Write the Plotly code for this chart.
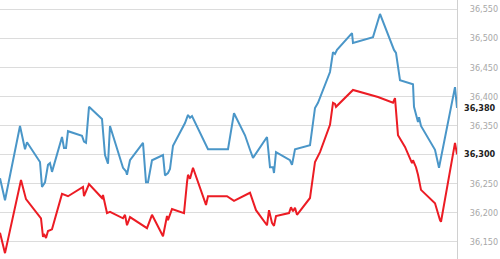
import plotly.graph_objects as go

# time index (minutes) and prices
t_blue = [0,5,20,25,27,40,42,45,48,50,52,62,64,66,68,82,84,86,89,102,105,108,110,123,126,127,130,143,146,148,152,163,165,168,170,173,185,188,190,192,208,228,234,245,250,253,267,270,273,274,276,290,292,295,310,315,318,330,333,335,337,352,353,373,380,394,396,400,413,414,418,419,421,435,439,455,457]
v_blue = [36259,36221,36349,36309,36321,36287,36244,36252,36282,36285,36270,36330,36311,36311,36340,36332,36322,36320,36382,36361,36299,36284,36349,36277,36271,36265,36290,36320,36252,36252,36290,36299,36264,36268,36275,36315,36354,36368,36363,36366,36309,36309,36371,36333,36308,36294,36330,36278,36278,36268,36304,36290,36282,36309,36316,36380,36389,36442,36476,36473,36480,36509,36492,36502,36542,36480,36475,36428,36421,36382,36356,36364,36349,36308,36277,36416,36380]

t_red = [0,5,21,26,41,43,44,46,48,52,62,68,83,84,89,102,103,107,110,123,125,127,130,145,147,152,163,167,168,172,184,187,188,190,193,206,208,227,234,250,256,267,269,272,274,276,289,291,293,295,297,310,315,320,330,333,335,336,353,378,393,395,398,405,412,413,416,418,421,435,437,440,441,455,457]
v_red = [36165,36130,36256,36223,36190,36158,36163,36156,36168,36171,36232,36228,36244,36228,36249,36225,36230,36199,36201,36190,36196,36178,36192,36175,36173,36196,36159,36194,36187,36206,36199,36252,36265,36258,36277,36213,36228,36228,36220,36234,36204,36178,36204,36182,36177,36194,36199,36209,36202,36208,36196,36225,36287,36304,36351,36389,36387,36382,36411,36399,36389,36397,36333,36313,36285,36290,36278,36265,36239,36216,36203,36187,36184,36320,36300]

tick_vals = [36150, 36200, 36250, 36300, 36350, 36400, 36450, 36500, 36550]
last_blue = 36380
last_red = 36300

BLUE = "#4a96c8"
RED = "#ec1c24"
FONT = "DejaVu Sans Condensed, DejaVu Sans, sans-serif"

fig = go.Figure()
fig.add_trace(go.Scatter(x=t_blue, y=v_blue, mode="lines",
                         line=dict(color=BLUE, width=2), hoverinfo="skip"))
fig.add_trace(go.Scatter(x=t_red, y=v_red, mode="lines",
                         line=dict(color=RED, width=2), hoverinfo="skip"))

tick_text = ["" if v == last_red else f"{v:,}" for v in tick_vals]

fig.update_layout(
    width=500, height=259,
    margin=dict(l=0, r=43, t=0, b=0),
    paper_bgcolor="white", plot_bgcolor="white",
    showlegend=False,
    xaxis=dict(range=[0, 457], showgrid=False, zeroline=False,
               showticklabels=False, showline=False, fixedrange=True),
    yaxis=dict(range=[36119.9, 36566], side="right",
               tickvals=tick_vals, ticktext=tick_text,
               showgrid=True, gridcolor="#dcdcdc", gridwidth=1,
               zeroline=False, showline=True, linecolor="#d0d0d0", linewidth=1,
               ticks="", ticklabelstandoff=10,
               tickfont=dict(family=FONT, size=9, color="#a8a8a8")),
)

for val in (last_blue, last_red):
    fig.add_annotation(x=1, xref="paper", y=val, yref="y",
                       text=f"<b>{val:,}</b>", showarrow=False,
                       xanchor="left", xshift=6, borderpad=0,
                       font=dict(family=FONT, size=9, color="#222222"))

fig.write_html("out.html")
